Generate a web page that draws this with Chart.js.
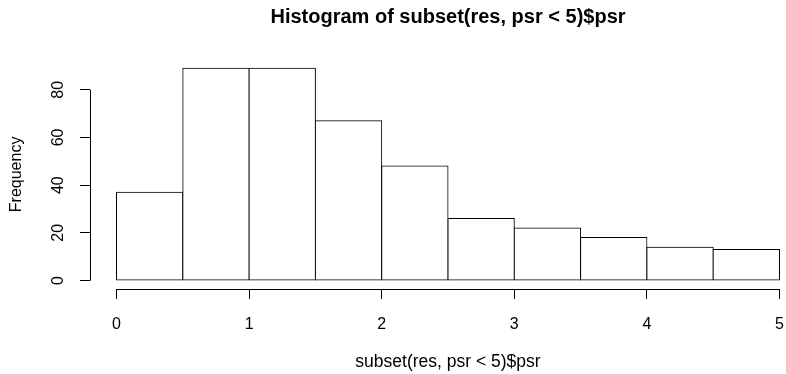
<!DOCTYPE html>
<html>
<head>
<meta charset="utf-8">
<script src="https://cdn.jsdelivr.net/npm/chart.js@4/dist/chart.umd.min.js"></script>
<style>
  html, body { margin: 0; padding: 0; background: #fff; overflow: hidden; }
  #view { width: 786px; height: 374px; overflow: hidden; position: relative; }
  /* the figure is wider than the view; its right margin falls outside */
  #wrap { width: 846px; height: 374px; position: relative; }
</style>
</head>
<body>
<div id="view"><div id="wrap"><canvas id="hist"></canvas></div></div>
<script>
// Histogram bins (edges) and their counts
const binEdges = [0, 0.5, 1, 1.5, 2, 2.5, 3, 3.5, 4, 4.5, 5];
const counts = [37, 89, 89, 67, 48, 26, 22, 18, 14, 13];
const xTicks = [0, 1, 2, 3, 4, 5];
const yTicks = [0, 20, 40, 60, 80];

const mainTitle = 'Histogram of subset(res, psr < 5)$psr';
const xTitle = 'subset(res, psr < 5)$psr';
const yTitle = 'Frequency';

const FONT = "'Liberation Sans', Arial, Helvetica, sans-serif";

// one point per bin, placed at the bin centre
const points = counts.map((c, i) => ({ x: (binEdges[i] + binEdges[i + 1]) / 2, y: c }));

// R-like plot range: data range widened by 4% on each side
const xMin = binEdges[0] - 0.04 * (binEdges[binEdges.length - 1] - binEdges[0]);
const xMax = binEdges[binEdges.length - 1] + 0.04 * (binEdges[binEdges.length - 1] - binEdges[0]);
const yTop = Math.max(...counts);
const yMin = -0.04 * yTop;
const yMax = yTop * 1.04;

// axis lines that only span the tick range
const axisLines = {
  id: 'axisLines',
  afterDraw(chart) {
    const { ctx, chartArea, scales } = chart;
    ctx.save();
    ctx.strokeStyle = '#000';
    ctx.lineWidth = 1;
    const xl = Math.round(chartArea.left) + 0.5;
    ctx.beginPath();
    ctx.moveTo(xl, scales.y.getPixelForValue(yTicks[0]));
    ctx.lineTo(xl, scales.y.getPixelForValue(yTicks[yTicks.length - 1]));
    ctx.stroke();
    const yb = Math.round(chartArea.bottom) + 0.5;
    ctx.beginPath();
    ctx.moveTo(scales.x.getPixelForValue(xTicks[0]), yb);
    ctx.lineTo(scales.x.getPixelForValue(xTicks[xTicks.length - 1]), yb);
    ctx.stroke();
    ctx.restore();
  }
};

new Chart(document.getElementById('hist'), {
  type: 'bar',
  data: {
    datasets: [{
      data: points,
      backgroundColor: '#ffffff',
      borderColor: '#000000',
      borderSkipped: false,
      borderWidth: 1,
      // widen each bar by half a pixel so neighbouring edges fall on one shared line
      inflateAmount: 0.5,
      barPercentage: 1,
      categoryPercentage: 1
    }]
  },
  options: {
    responsive: true,
    maintainAspectRatio: false,
    animation: false,
    layout: { padding: { left: 0, right: 40, top: 0, bottom: 0 } },
    plugins: {
      legend: { display: false },
      tooltip: { enabled: false },
      title: {
        display: true,
        fullSize: false,
        text: mainTitle,
        color: '#000',
        font: { family: FONT, size: 20, weight: 'bold', lineHeight: 1.2 },
        padding: { top: 5.5, bottom: 30.3 }
      }
    },
    scales: {
      x: {
        type: 'linear',
        min: xMin,
        max: xMax,
        offset: false,
        afterBuildTicks: (s) => { s.ticks = xTicks.map(v => ({ value: v })); },
        afterFit: (s) => { s.height = 85; s.paddingLeft = 0; s.paddingRight = 0; },
        border: { display: false },
        grid: { offset: false, drawOnChartArea: false, drawTicks: true, tickLength: 10, color: '#000', tickWidth: 1 },
        ticks: {
          color: '#000',
          padding: 16,
          maxRotation: 0,
          font: { family: FONT, size: 16 },
          callback: (v) => String(v)
        },
        title: {
          display: true,
          text: xTitle,
          color: '#000',
          font: { family: FONT, size: 17.5 },
          padding: { top: 0, bottom: 1.5 }
        }
      },
      y: {
        type: 'linear',
        min: yMin,
        max: yMax,
        afterBuildTicks: (s) => { s.ticks = yTicks.map(v => ({ value: v })); },
        afterFit: (s) => { s.width = 90; s.paddingTop = 0; s.paddingBottom = 0; },
        border: { display: false },
        grid: { drawOnChartArea: false, drawTicks: true, tickLength: 10, color: '#000', tickWidth: 1 },
        ticks: {
          color: '#000',
          padding: 13,
          minRotation: 90,
          maxRotation: 90,
          crossAlign: 'center',
          font: { family: FONT, size: 16 },
          callback: (v) => String(v)
        },
        title: {
          display: true,
          text: yTitle,
          color: '#000',
          font: { family: FONT, size: 16 },
          padding: { top: 7.4, bottom: 0 }
        }
      }
    }
  },
  plugins: [axisLines]
});
</script>
</body>
</html>
